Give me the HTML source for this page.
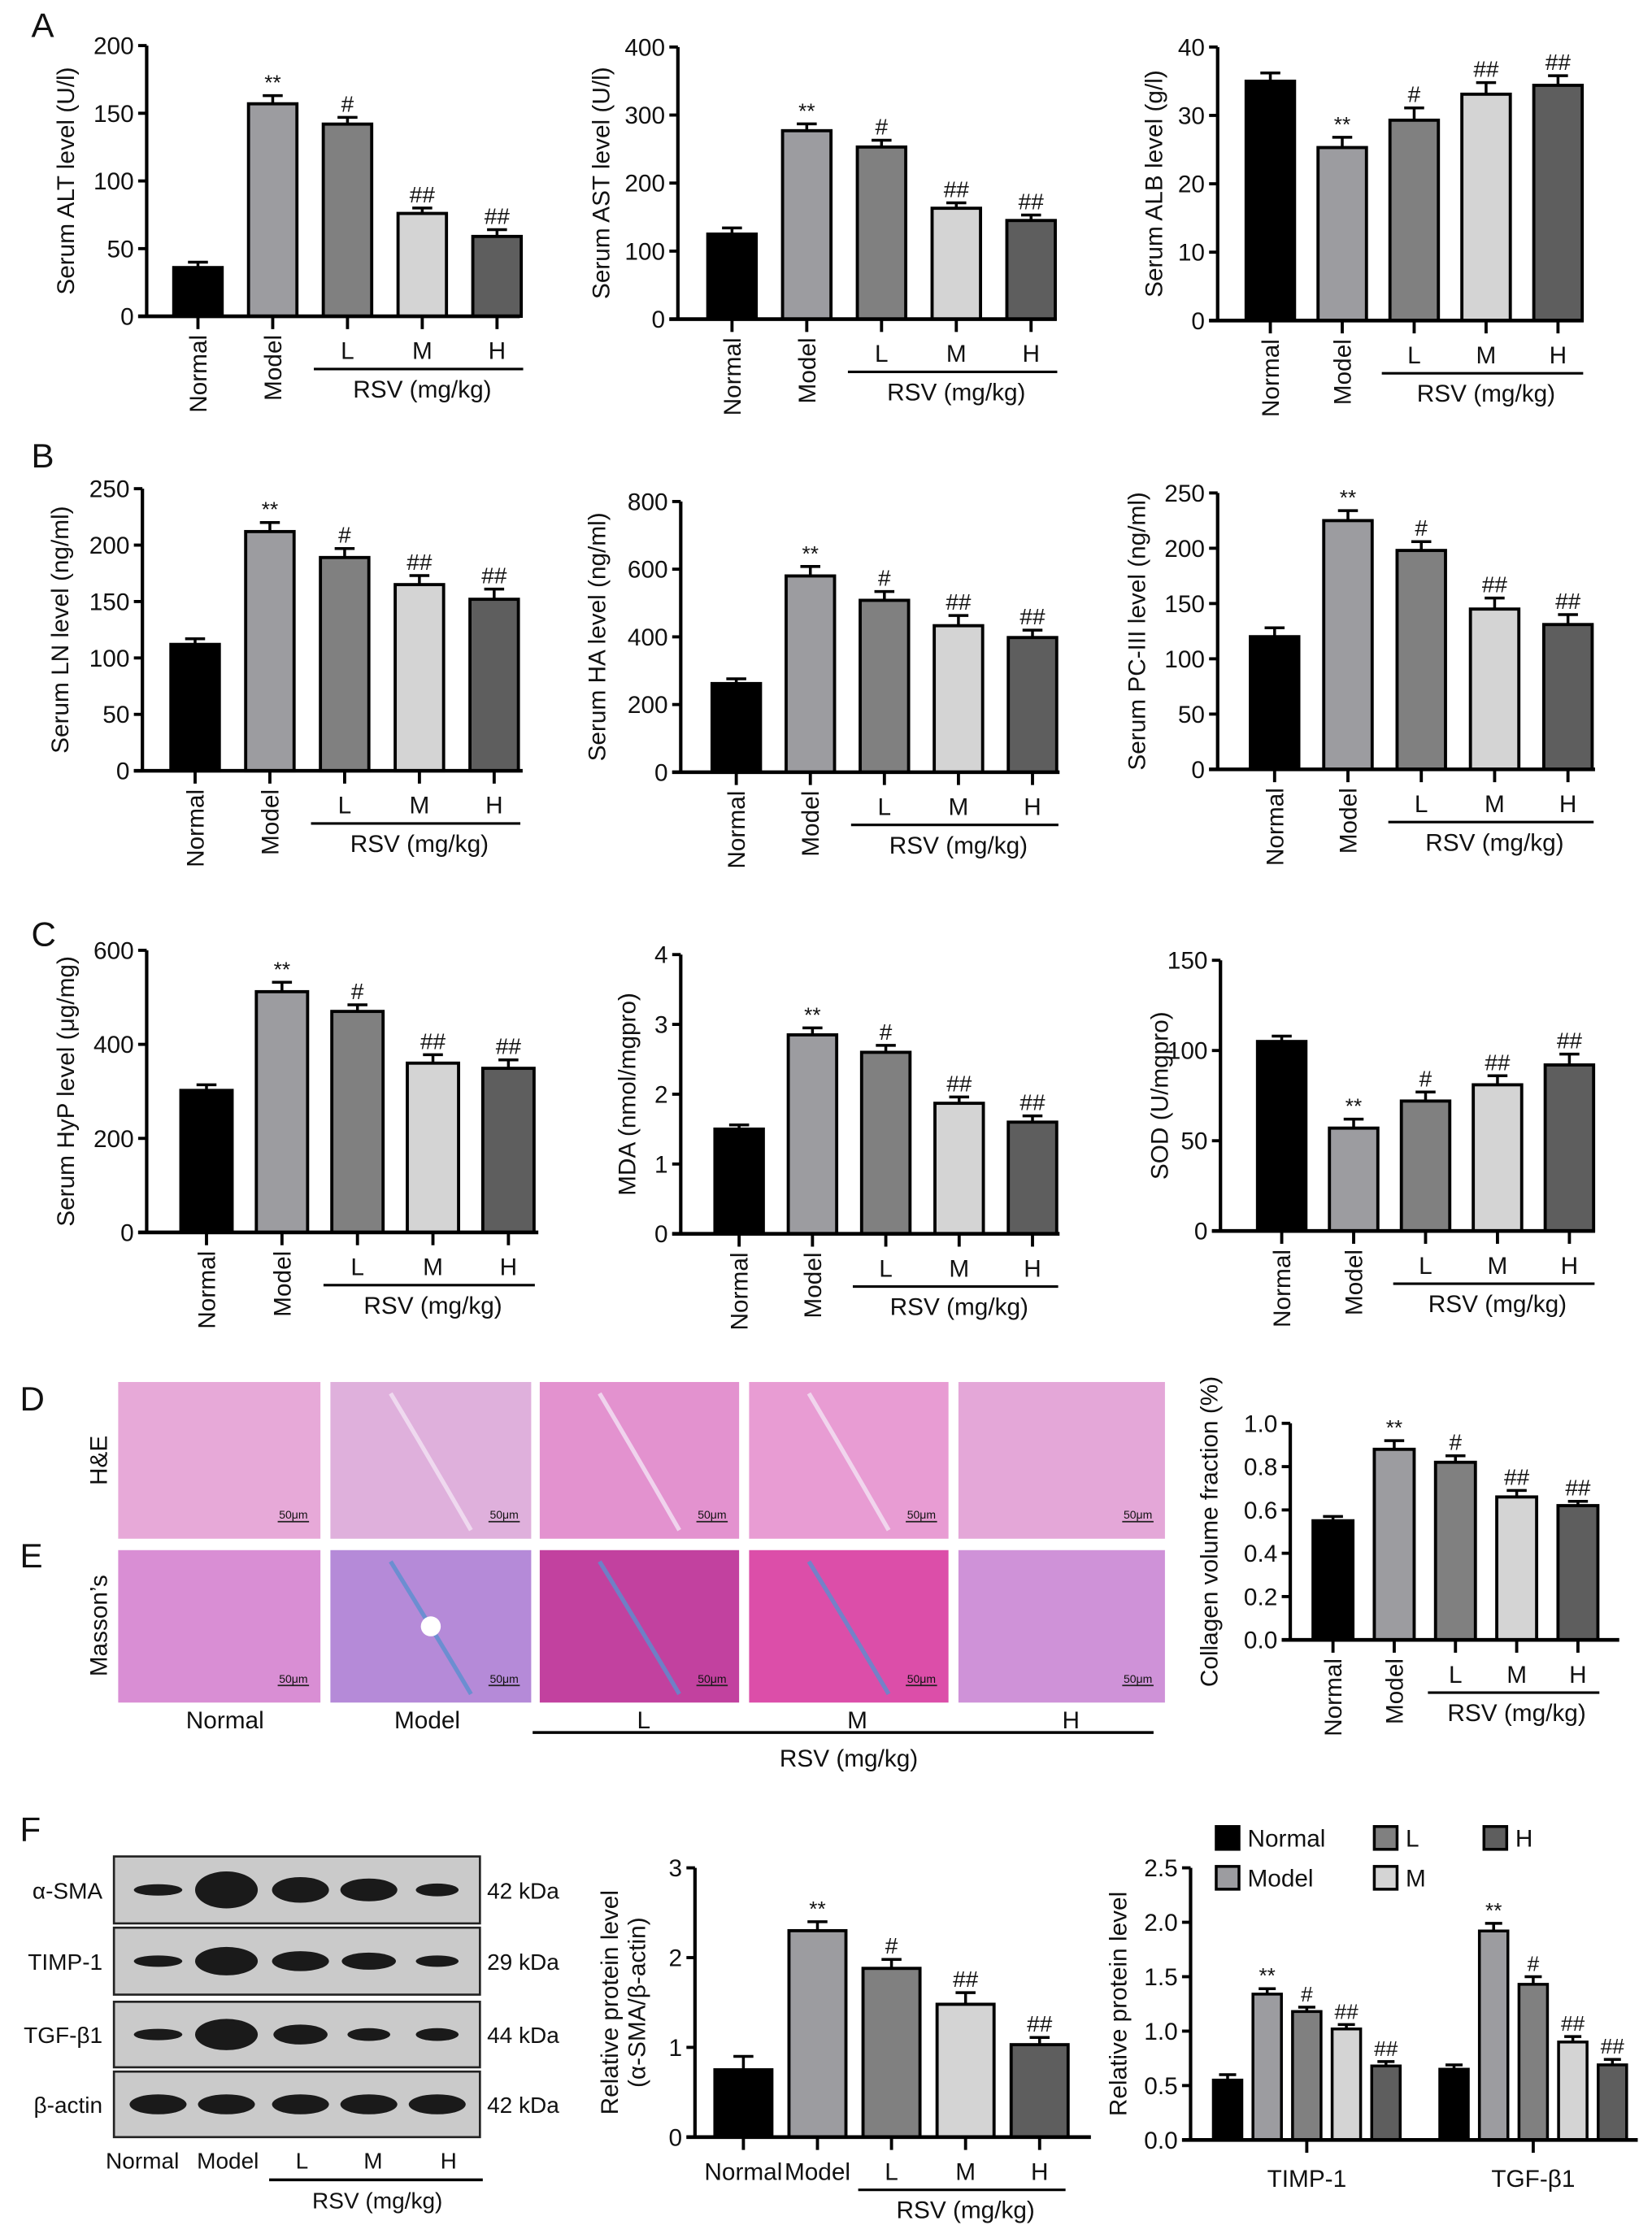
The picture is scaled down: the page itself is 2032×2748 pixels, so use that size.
<!DOCTYPE html>
<html><head><meta charset="utf-8"><style>
html,body{margin:0;padding:0;background:#fff}
svg{display:block}
text{font-family:"Liberation Sans",sans-serif;fill:#111}
</style></head><body>
<svg id="fig" width="2032" height="2748" viewBox="0 0 1160 1568" preserveAspectRatio="none" xmlns="http://www.w3.org/2000/svg">
<g id="static">
<text x="22" y="26" font-size="24">A</text>
<text x="22" y="328" font-size="24">B</text>
<text x="22" y="664" font-size="24">C</text>
<text x="14" y="990" font-size="24">D</text>
<text x="14" y="1100" font-size="24">E</text>
<text x="14" y="1292" font-size="24">F</text>
</g>
<g id="g"></g>
</svg>
<script>
const groups=["Normal","Model","L","M","H"];
const fills=["#000000","#9c9ca0","#808080","#d4d4d4","#5e5e5e"];
const altVals=[36,157,142,76,59], altErr=[4,6,5,4,5], altMarks=["","**","#","##","##"];
const astVals=[125,277,253,163,145], astErr=[9,10,10,8,8], astMarks=["","**","#","##","##"];
const albVals=[35,25.3,29.3,33.1,34.4], albErr=[1.2,1.5,1.8,1.7,1.4], albMarks=["","**","#","##","##"];
const lnVals=[112,212,189,165,152], lnErr=[5,8,8,8,9], lnMarks=["","**","#","##","##"];
const haVals=[262,580,508,433,398], haErr=[14,28,26,30,22], haMarks=["","**","#","##","##"];
const pcVals=[120,225,198,145,131], pcErr=[8,9,8,10,9], pcMarks=["","**","#","##","##"];
const hypVals=[302,512,470,360,349], hypErr=[12,20,14,18,18], hypMarks=["","**","#","##","##"];
const mdaVals=[1.5,2.85,2.6,1.87,1.6], mdaErr=[0.06,0.1,0.1,0.09,0.09], mdaMarks=["","**","#","##","##"];
const sodVals=[105,57,72,81,92], sodErr=[3,5,5,5,6], sodMarks=["","**","#","##","##"];
const colVals=[0.55,0.88,0.82,0.66,0.62], colErr=[0.02,0.04,0.03,0.03,0.02], colMarks=["","**","#","##","##"];
const smaVals=[0.75,2.3,1.88,1.48,1.03], smaErr=[0.15,0.1,0.1,0.13,0.08], smaMarks=["","**","#","##","##"];
const proteins=["TIMP-1","TGF-β1"];
const timpVals=[0.55,1.34,1.18,1.02,0.68], timpErr=[0.05,0.05,0.04,0.04,0.04];
const tgfVals=[0.65,1.92,1.43,0.9,0.69], tgfErr=[0.04,0.07,0.07,0.05,0.05];
const protMarks=["","**","#","##","##"];
const protTicks=[0,0.5,1.0,1.5,2.0,2.5];

const NS="http://www.w3.org/2000/svg";
const root=document.getElementById('g');
function el(tag,attrs,parent,txt){const e=document.createElementNS(NS,tag);for(const k in attrs)e.setAttribute(k,attrs[k]);if(txt!==undefined)e.textContent=txt;(parent||root).appendChild(e);return e;}

function barChart(c){
  const g=el('g',{});
  
  
  const y=v=>c.y0-(v/c.max)*(c.y0-c.ytop);
  const x=i=>c.first+i*c.step;
  const ya=el('line',{x1:c.ax,y1:c.y0,x2:c.ax,y2:c.ytop,stroke:'#000','stroke-width':2.4},g);
  
  
  c.ticks.forEach(t=>{
    el('line',{x1:c.ax-6,y1:y(t),x2:c.ax,y2:y(t),stroke:'#000','stroke-width':2.2},g);
    const tl=el('text',{x:c.ax-9,y:y(t)+6,'font-size':17,'text-anchor':'end'},g,c.fmt?t.toFixed(c.fmt):t);
    
    
  });
  const yt=el('text',{x:0,y:0,'font-size':17,'text-anchor':'middle',transform:`translate(${c.tx},${(c.y0+c.ytop)/2}) rotate(-90)`},g,c.title);
  
  
  if(c.title2){const t2=el('text',{x:0,y:0,'font-size':17,'text-anchor':'middle',transform:`translate(${c.tx+19},${(c.y0+c.ytop)/2}) rotate(-90)`},g,c.title2);
    
    }
  c.vals.forEach((v,i)=>{
    const b=el('rect',{x:x(i)-c.bw/2,y:y(v),width:c.bw,height:c.y0-y(v),fill:fills[i],stroke:'#000','stroke-width':2.2},g);
    
    
    const et=y(v+c.err[i]);
    el('line',{x1:x(i),y1:y(v),x2:x(i),y2:et,stroke:'#000','stroke-width':2},g);
    el('line',{x1:x(i)-7,y1:et,x2:x(i)+7,y2:et,stroke:'#000','stroke-width':2},g);
    if(c.marks[i]){const m=el('text',{x:x(i),y:et-4,'font-size':c.marks[i]=='**'?15:16,'text-anchor':'middle'},g,c.marks[i]);
      
      }
    el('line',{x1:x(i),y1:c.y0,x2:x(i),y2:c.y0+9,stroke:'#000','stroke-width':2.2},g);
    let lab;
    if(i<2 && !c.flat){
      lab=el('text',{x:0,y:0,'font-size':17,'text-anchor':'end',transform:`translate(${x(i)+6},${c.y0+13}) rotate(-90)`},g,groups[i]);
    } else {
      lab=el('text',{x:x(i),y:c.y0+30,'font-size':17,'text-anchor':'middle'},g,groups[i]);
    }
    
    
  });
  const xa=el('line',{x1:c.ax-6,y1:c.y0,x2:c.end,y2:c.y0,stroke:'#000','stroke-width':2.6},g);
  
  
  const ly=c.y0+37;
  el('line',{x1:x(2)-c.step*0.45,y1:ly,x2:x(4)+c.step*0.35,y2:ly,stroke:'#000','stroke-width':1.8},g);
  const r=el('text',{x:x(3),y:ly+20,'font-size':17,'text-anchor':'middle'},g,'RSV (mg/kg)');
  
  
}
const rng=(a,b,s)=>{const r=[];for(let v=a;v<=b+1e-9;v+=s)r.push(+v.toFixed(3));return r;};
barChart({name:'alt-chart',ax:103,y0:222,ytop:32,max:200,ticks:rng(0,200,50),first:139,step:52.5,bw:34,end:365,vals:altVals,err:altErr,marks:altMarks,title:'Serum ALT level (U/l)',tx:52});
barChart({name:'ast-chart',ax:476,y0:224,ytop:33,max:400,ticks:rng(0,400,100),first:514,step:52.5,bw:34,end:742,vals:astVals,err:astErr,marks:astMarks,title:'Serum AST level (U/l)',tx:428});
barChart({name:'alb-chart',ax:855,y0:225,ytop:33,max:40,ticks:rng(0,40,10),first:892,step:50.5,bw:34,end:1112,vals:albVals,err:albErr,marks:albMarks,title:'Serum ALB level (g/l)',tx:816});
barChart({name:'ln-chart',ax:100,y0:541,ytop:343,max:250,ticks:rng(0,250,50),first:137,step:52.5,bw:34,end:367,vals:lnVals,err:lnErr,marks:lnMarks,title:'Serum LN level (ng/ml)',tx:48});
barChart({name:'ha-chart',ax:478,y0:542,ytop:352,max:800,ticks:rng(0,800,200),first:517,step:52,bw:34,end:744,vals:haVals,err:haErr,marks:haMarks,title:'Serum HA level (ng/ml)',tx:425});
barChart({name:'pc3-chart',ax:855,y0:540,ytop:346,max:250,ticks:rng(0,250,50),first:895,step:51.5,bw:34,end:1120,vals:pcVals,err:pcErr,marks:pcMarks,title:'Serum PC-III level (ng/ml)',tx:804});
barChart({name:'hyp-chart',ax:103,y0:865,ytop:667,max:600,ticks:rng(0,600,200),first:145,step:53,bw:36,end:378,vals:hypVals,err:hypErr,marks:hypMarks,title:'Serum HyP level (μg/mg)',tx:52});
barChart({name:'mda-chart',ax:478,y0:866,ytop:670,max:4,ticks:rng(0,4,1),first:519,step:51.5,bw:34,end:744,vals:mdaVals,err:mdaErr,marks:mdaMarks,title:'MDA (nmol/mgpro)',tx:446});
barChart({name:'sod-chart',ax:857,y0:864,ytop:674,max:150,ticks:rng(0,150,50),first:900,step:50.5,bw:34,end:1120,vals:sodVals,err:sodErr,marks:sodMarks,title:'SOD (U/mgpro)',tx:820});
barChart({name:'collagen-chart',ax:906,y0:1151,ytop:999,max:1.0,ticks:rng(0,1,0.2),fmt:1,first:936,step:43,bw:28,end:1137,vals:colVals,err:colErr,marks:colMarks,title:'Collagen volume fraction (%)',tx:855});
barChart({name:'asma-chart',ax:488,y0:1500,ytop:1311,max:3,ticks:rng(0,3,1),first:522,step:52,bw:40,end:766,vals:smaVals,err:smaErr,marks:smaMarks,title:'Relative protein level',title2:'(α-SMA/β-actin)',tx:434,flat:true});

(function(){
  const g=el('g',{});
  
  
  const ax=836,y0=1502,ytop=1311,max=2.5;
  const y=v=>y0-(v/max)*(y0-ytop);
  const gx=(p,i)=>862+p*159+i*27.8;
  el('line',{x1:ax,y1:y0,x2:ax,y2:ytop,stroke:'#000','stroke-width':2.4},g);
  protTicks.forEach(t=>{el('line',{x1:ax-6,y1:y(t),x2:ax,y2:y(t),stroke:'#000','stroke-width':2.2},g);
    const tl=el('text',{x:ax-9,y:y(t)+6,'font-size':17,'text-anchor':'end'},g,t.toFixed(1));
    
    });
  const yt=el('text',{x:0,y:0,'font-size':17,'text-anchor':'middle',transform:`translate(791,${(y0+ytop)/2}) rotate(-90)`},g,'Relative protein level');
  
  
  [timpVals,tgfVals].forEach((vals,p)=>{
    const errs=p?tgfErr:timpErr;
    vals.forEach((v,i)=>{
      const b=el('rect',{x:gx(p,i)-10,y:y(v),width:20,height:y0-y(v),fill:fills[i],stroke:'#000','stroke-width':2},g);
      
      
      const et=y(v+errs[i]);
      el('line',{x1:gx(p,i),y1:y(v),x2:gx(p,i),y2:et,stroke:'#000','stroke-width':2},g);
      el('line',{x1:gx(p,i)-6,y1:et,x2:gx(p,i)+6,y2:et,stroke:'#000','stroke-width':2},g);
      if(protMarks[i]){const m=el('text',{x:gx(p,i),y:et-4,'font-size':15,'text-anchor':'middle'},g,protMarks[i]);
        
        }
    });
    el('line',{x1:gx(p,2),y1:y0,x2:gx(p,2),y2:y0+9,stroke:'#000','stroke-width':2.2},g);
    const l=el('text',{x:gx(p,2),y:y0+33,'font-size':17,'text-anchor':'middle'},g,proteins[p]);
    
    
  });
  el('line',{x1:ax-6,y1:y0,x2:1150,y2:y0,stroke:'#000','stroke-width':2.6},g);
  const pos=[[862,1290],[862,1318],[973,1290],[973,1318],[1050,1290]];
  groups.forEach((n,i)=>{
    const lg=el('g',{},g);
    
    
    el('rect',{x:pos[i][0]-8,y:pos[i][1]-8,width:16,height:16,fill:fills[i],stroke:'#000','stroke-width':2},lg);
    el('text',{x:pos[i][0]+14,y:pos[i][1]+6,'font-size':17},lg,n);
  });
})();

(function(){
  const cols=[[83,225],[232,373],[379,519],[526,666],[673,818]];
  const he=["#e7a9d8","#dfb0dc","#e392cf","#e89cd3","#e4a7d8"];
  const ms=["#d98ed4","#b58ad8","#c2419f","#dc4ea9","#cf92d8"];
  const rows=[[970,1080,he,'he'],[1088,1195,ms,'masson']];
  rows.forEach(([t,b,pal,nm])=>{
    cols.forEach(([l,r],i)=>{
      const im=el('rect',{x:l,y:t,width:r-l,height:b-t,fill:pal[i]});
      
      
      if(i>0 && i<4){el('path',{d:`M${l+(r-l)*0.3},${t+8} Q${(l+r)/2},${(t+b)/2} ${l+(r-l)*0.7},${b-6}`,stroke:nm=='he'?'#f2e4f4':'#5a8fd0','stroke-width':3,fill:'none',opacity:0.8});}
      if(nm=='masson'&&i==1){el('circle',{cx:(l+r)/2,cy:(t+b)/2,r:7,fill:'#fff'});}
      el('line',{x1:r-30,y1:b-12,x2:r-8,y2:b-12,stroke:'#222','stroke-width':1});
      el('text',{x:r-19,y:b-14,'font-size':8,'text-anchor':'middle'},undefined,'50μm');
    });
  });
  const he2=el('text',{x:0,y:0,'font-size':17,'text-anchor':'middle',transform:'translate(75,1025) rotate(-90)'},undefined,'H&E');
  
  
  const ms2=el('text',{x:0,y:0,'font-size':17,'text-anchor':'middle',transform:'translate(75,1141) rotate(-90)'},undefined,'Masson’s');
  
  
  const lx=[158,300,452,602,752];
  groups.forEach((n,i)=>{const t=el('text',{x:lx[i],y:1213,'font-size':17,'text-anchor':'middle'},undefined,n);
    
    });
  el('line',{x1:374,y1:1216,x2:810,y2:1216,stroke:'#000','stroke-width':2});
  const r=el('text',{x:596,y:1240,'font-size':17,'text-anchor':'middle'},undefined,'RSV (mg/kg)');
  
  
})();

(function(){
  const strips=[[1303,1350,'α-SMA','42 kDa'],[1353,1400,'TIMP-1','29 kDa'],[1405,1451,'TGF-β1','44 kDa'],[1454,1500,'β-actin','42 kDa']];
  const lanes=[111,159,211,259,307];
  const bandW=[[34,44,40,40,30],[34,44,40,38,30],[34,44,38,30,30],[40,40,40,40,40]];
  const bandH=[[8,26,18,16,9],[8,20,14,12,8],[8,22,14,9,9],[14,14,14,14,14]];
  strips.forEach(([t,b,lab,kda],s)=>{
    const st=el('rect',{x:80,y:t,width:257,height:b-t,fill:'#cacaca',stroke:'#222','stroke-width':1.5});
    
    
    lanes.forEach((cx,i)=>{el('ellipse',{cx:cx,cy:(t+b)/2,rx:bandW[s][i]/2,ry:bandH[s][i]/2,fill:'#1a1a1a'});});
    const l=el('text',{x:72,y:(t+b)/2+6,'font-size':16,'text-anchor':'end'},undefined,lab);
    
    
    const k=el('text',{x:342,y:(t+b)/2+6,'font-size':16},undefined,kda);
    
    
  });
  const lx=[100,160,212,262,315];
  groups.forEach((n,i)=>{const t=el('text',{x:lx[i],y:1522,'font-size':16,'text-anchor':'middle'},undefined,n);
    
    });
  el('line',{x1:189,y1:1530,x2:339,y2:1530,stroke:'#000','stroke-width':2});
  const r=el('text',{x:265,y:1550,'font-size':16,'text-anchor':'middle'},undefined,'RSV (mg/kg)');
  
  
})();
</script>
</body></html>
